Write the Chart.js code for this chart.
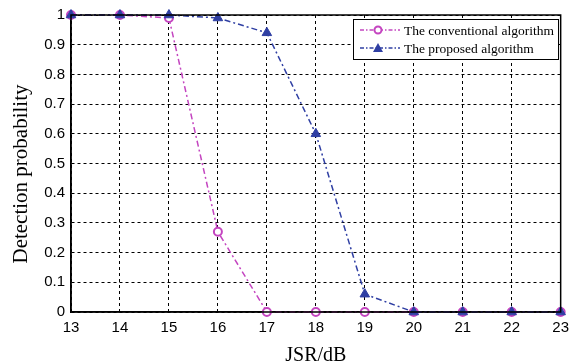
<!DOCTYPE html>
<html>
<head>
<meta charset="utf-8">
<script src="https://cdn.jsdelivr.net/npm/chart.js@4.4.1/dist/chart.umd.min.js"></script>
<style>
  html, body { margin:0; padding:0; background:#fff; }
  #wrap { width:576px; height:364px; }
</style>
</head>
<body>
<div id="wrap"><canvas id="c" width="576" height="364"></canvas></div>
<script>
  // Datos
  const jsr          = [13, 14, 15, 16, 17, 18, 19, 20, 21, 22, 23];
  const conventional = [1, 1, 0.99, 0.27, 0, 0, 0, 0, 0, 0, 0];
  const proposed     = [1, 1, 1, 0.99, 0.94, 0.60, 0.06, 0, 0, 0, 0];
  const seriesNames  = ["The conventional algorithm", "The proposed algorithm"];

  const PINK = "#c445c0";
  const BLUE = "#2f3fa3";
  const DASH = [6, 3, 2, 3];

  const pts = (ys)=> jsr.map((x,i)=>({x, y: ys[i]}));

  // caja completa alrededor del área de trazado + leyenda interna
  const boxAndLegend = {
    id: "boxAndLegend",
    afterDatasetsDraw(chart){
      const {ctx, chartArea:a} = chart;
      ctx.save();
      ctx.strokeStyle = "#000";
      ctx.lineWidth = 1.5;
      ctx.setLineDash([]);
      ctx.strokeRect(a.left, a.top, a.right - a.left, a.bottom - a.top);

      // leyenda
      const bx = 353, by = 19, bw = 205, bh = 40;
      ctx.fillStyle = "#fff";
      ctx.fillRect(bx, by, bw, bh);
      ctx.lineWidth = 1;
      ctx.strokeRect(bx + 0.5, by + 0.5, bw, bh);
      const rows = [
        {name: seriesNames[0], color: PINK, shape: "circle", y: by + 11},
        {name: seriesNames[1], color: BLUE, shape: "triangle", y: by + 29},
      ];
      ctx.font = "13.5px 'Liberation Serif', 'DejaVu Serif', serif";
      ctx.textBaseline = "middle";
      rows.forEach(r=>{
        ctx.strokeStyle = r.color;
        ctx.lineWidth = 1.5;
        ctx.setLineDash([4, 2, 1.5, 2]);
        ctx.beginPath(); ctx.moveTo(bx + 7, r.y); ctx.lineTo(bx + 47, r.y); ctx.stroke();
        ctx.setLineDash([]);
        const mx = bx + 25;
        if(r.shape === "circle"){
          ctx.fillStyle = "#fff";
          ctx.lineWidth = 2;
          ctx.beginPath(); ctx.arc(mx, r.y, 3.5, 0, Math.PI*2); ctx.fill(); ctx.stroke();
        }else{
          ctx.fillStyle = r.color;
          ctx.beginPath();
          ctx.moveTo(mx, r.y - 5); ctx.lineTo(mx + 5, r.y + 4); ctx.lineTo(mx - 5, r.y + 4);
          ctx.closePath(); ctx.fill();
        }
        ctx.fillStyle = "#000";
        ctx.fillText(r.name, bx + 51, r.y + 1);
      });
      ctx.restore();
    }
  };

  new Chart(document.getElementById("c").getContext("2d"), {
    type: "line",
    data: {
      datasets: [
        {
          label: seriesNames[0], data: pts(conventional),
          borderColor: PINK, backgroundColor: "#fff",
          borderWidth: 1.5, borderDash: DASH,
          pointStyle: "circle", pointRadius: 4, pointBorderWidth: 2,
          pointBorderColor: PINK, pointBackgroundColor: "#fff",
          tension: 0, clip: false, order: 2
        },
        {
          label: seriesNames[1], data: pts(proposed),
          borderColor: BLUE, backgroundColor: BLUE,
          borderWidth: 1.5, borderDash: DASH,
          pointStyle: "triangle", pointRadius: 5.5, pointBorderWidth: 1,
          pointBorderColor: BLUE, pointBackgroundColor: BLUE,
          tension: 0, clip: false, order: 1
        }
      ]
    },
    options: {
      responsive: false,
      animation: false,
      layout: { padding: { top: 13, right: 13, left: 0, bottom: 0 } },
      plugins: { legend: { display: false }, tooltip: { enabled: false } },
      scales: {
        x: {
          type: "linear", min: 13, max: 23,
          afterFit: s => { s.height = 52; },
          ticks: { stepSize: 1, color: "#000", padding: 7,
                   font: { family: "'Liberation Sans', Arial, sans-serif", size: 15 } },
          grid: { color: "#000", lineWidth: 1, drawTicks: false },
          border: { display: true, color: "#000", width: 1.5, dash: [3, 3] },
          title: { display: true, text: "JSR/dB", color: "#000", padding: { top: 0, bottom: -1.5 },
                   font: { family: "'Liberation Serif', 'Times New Roman', serif", size: 20, lineHeight: 1 } }
        },
        y: {
          min: 0, max: 1,
          afterFit: s => { s.width = 71; },
          ticks: { stepSize: 0.1, color: "#000", padding: 6,
                   callback: v => String(Math.round(v * 10) / 10),
                   font: { family: "'Liberation Sans', Arial, sans-serif", size: 15 } },
          grid: { color: "#000", lineWidth: 1, drawTicks: false },
          border: { display: true, color: "#000", width: 1.5, dash: [3, 3] },
          // espacios finales: centran el texto visible un poco más abajo, como en el original
          title: { display: true, text: "Detection probability    ", color: "#000", padding: { top: 9, bottom: 0 },
                   font: { family: "'Liberation Serif', 'Times New Roman', serif", size: 21 } }
        }
      }
    },
    plugins: [boxAndLegend]
  });
</script>
</body>
</html>
